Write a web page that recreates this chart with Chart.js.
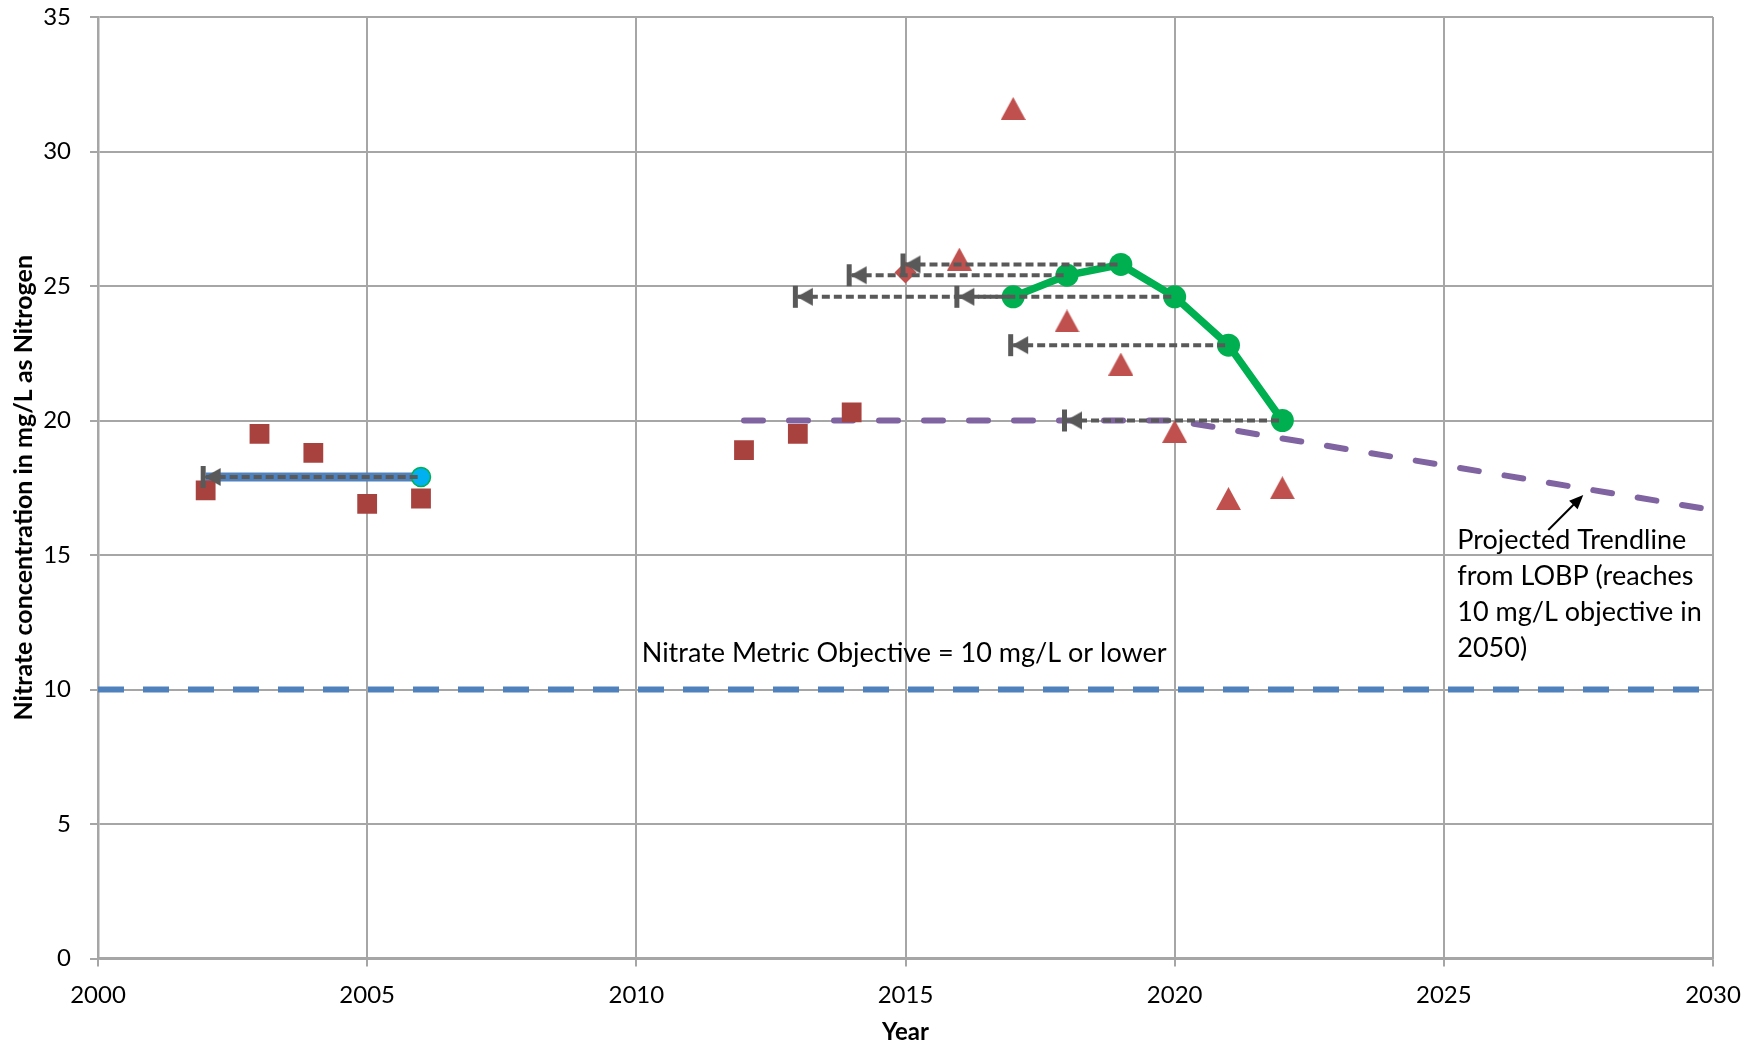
<!DOCTYPE html>
<html>
<head>
<meta charset="utf-8">
<script src="https://cdn.jsdelivr.net/npm/chart.js@4.4.1/dist/chart.umd.min.js"></script>
<style>
  html, body { margin: 0; padding: 0; background: #fff; }
</style>
</head>
<body>
<canvas id="chart" width="1764" height="1047"></canvas>
<script>
const squareYears = [2002, 2003, 2004, 2005, 2006, 2012, 2013, 2014];
const squareValues = [17.4, 19.5, 18.8, 16.9, 17.1, 18.9, 19.5, 20.3];
const diamondYears = [2015];
const diamondValues = [25.5];
const triangleYears = [2016, 2017, 2018, 2019, 2020, 2021, 2022];
const triangleValues = [26.0, 31.6, 23.7, 22.1, 19.6, 17.1, 17.5];
const greenYears = [2017, 2018, 2019, 2020, 2021, 2022];
const greenValues = [24.6, 25.4, 25.8, 24.6, 22.8, 20.0];
const earlyYears = [2002, 2006];
const earlyValue = 17.9;
const lagYears = 4; // each arrow points back 4 years
const trendYears = [2012, 2020, 2030];
const trendValues = [20, 20, 16.67];
const objectiveYears = [2000, 2030];
const objectiveValue = 10;
const objectiveLabel = 'Nitrate Metric Objective = 10 mg/L or lower';
const trendLabel = ['Projected Trendline', 'from LOBP (reaches', '10 mg/L objective in', '2050)'];

const pts = (xs, ys) => xs.map((x, i) => ({ x: x, y: Array.isArray(ys) ? ys[i] : ys }));

// "|<" end cap for the lag arrows
function makeArrowCap() {
    const c = document.createElement('canvas');
    c.width = 48;
    c.height = 24;
    const g = c.getContext('2d');
    g.fillStyle = '#595959';
    g.fillRect(19, 1, 5, 22);
    g.beginPath();
    g.moveTo(23, 12);
    g.lineTo(39, 3);
    g.lineTo(39, 21);
    g.closePath();
    g.fill();
    return c;
}
const arrowCap = makeArrowCap();

// triangle marker centred on its box, like the spreadsheet one
function makeTriangle() {
    const c = document.createElement('canvas');
    c.width = 25;
    c.height = 23;
    const g = c.getContext('2d');
    g.fillStyle = '#C0504D';
    g.beginPath();
    g.moveTo(12.5, 0);
    g.lineTo(25, 23);
    g.lineTo(0, 23);
    g.closePath();
    g.fill();
    return c;
}
const triangleMark = makeTriangle();

const arrowStarts = pts([earlyYears[1]].concat(greenYears), [earlyValue].concat(greenValues));
const arrowSets = arrowStarts.map(p => ({
    data: [{ x: p.x - lagYears, y: p.y }, { x: p.x, y: p.y }],
    showLine: true,
    borderColor: '#595959',
    borderWidth: 4,
    borderDash: [8, 4],
    pointStyle: arrowCap,
    pointRadius: ctx => ctx.dataIndex === 0 ? 8 : 0,
    order: 1
}));

const notes = {
    id: 'notes',
    afterDatasetsDraw(chart) {
        const { ctx, scales: { x, y } } = chart;
        ctx.save();
        ctx.fillStyle = '#000';
        ctx.font = '27px Lato';
        ctx.textBaseline = 'alphabetic';
        ctx.fillText(objectiveLabel, x.getPixelForValue(2010.1), y.getPixelForValue(11.02));
        const tx = x.getPixelForValue(2025.25);
        const ty = y.getPixelForValue(15.22);
        trendLabel.forEach((line, i) => ctx.fillText(line, tx, ty + i * 36));
        // pointer to the trendline
        const x1 = x.getPixelForValue(2026.94), y1 = y.getPixelForValue(15.93);
        const x2 = x.getPixelForValue(2027.59), y2 = y.getPixelForValue(17.23);
        const a = Math.atan2(y2 - y1, x2 - x1);
        ctx.strokeStyle = '#000';
        ctx.lineWidth = 2;
        ctx.beginPath();
        ctx.moveTo(x1, y1);
        ctx.lineTo(x2 - 10 * Math.cos(a), y2 - 10 * Math.sin(a));
        ctx.stroke();
        ctx.beginPath();
        ctx.moveTo(x2, y2);
        ctx.lineTo(x2 - 14 * Math.cos(a) + 6 * Math.sin(a), y2 - 14 * Math.sin(a) - 6 * Math.cos(a));
        ctx.lineTo(x2 - 14 * Math.cos(a) - 6 * Math.sin(a), y2 - 14 * Math.sin(a) + 6 * Math.cos(a));
        ctx.closePath();
        ctx.fill();
        ctx.restore();
    }
};

const gridColor = '#A6A6A6';

new Chart(document.getElementById('chart'), {
    type: 'scatter',
    data: {
        datasets: [
            ...arrowSets,
            {
                data: pts([earlyYears[1]], earlyValue),
                pointRadius: 9.5,
                pointBackgroundColor: '#00B0F0',
                pointBorderColor: '#00B050',
                pointBorderWidth: 1.5,
                order: 2
            },
            {
                data: pts(greenYears, greenValues),
                showLine: true,
                borderColor: '#00B050',
                borderWidth: 7.5,
                pointRadius: 11.5,
                pointBackgroundColor: '#00B050',
                pointBorderWidth: 0,
                order: 3
            },
            {
                data: pts(triangleYears, triangleValues),
                pointStyle: triangleMark,
                pointRadius: 12,
                pointBorderWidth: 0,
                order: 4
            },
            {
                data: pts(diamondYears, diamondValues),
                pointStyle: 'rectRot',
                pointRadius: 11,
                pointBackgroundColor: '#C0504D',
                pointBorderWidth: 0,
                order: 4
            },
            {
                data: pts(squareYears, squareValues),
                pointStyle: 'rect',
                pointRadius: 14,
                pointBackgroundColor: '#A8423F',
                pointBorderWidth: 0,
                order: 4
            },
            {
                data: pts(earlyYears, earlyValue),
                showLine: true,
                borderColor: '#4F81BD',
                borderWidth: 9,
                pointRadius: 0,
                order: 5
            },
            {
                data: pts(trendYears, trendValues),
                showLine: true,
                borderColor: '#8064A2',
                borderWidth: 6,
                borderDash: [19, 26],
                borderCapStyle: 'round',
                pointRadius: 0,
                order: 6
            },
            {
                data: pts(objectiveYears, objectiveValue),
                showLine: true,
                borderColor: '#4F81BD',
                borderWidth: 6,
                borderDash: [26, 19],
                pointRadius: 0,
                order: 7
            }
        ]
    },
    options: {
        responsive: false,
        animation: false,
        events: [],
        layout: { autoPadding: false, padding: { top: 17, right: 51, left: 0, bottom: 0 } },
        plugins: { legend: { display: false }, tooltip: { enabled: false } },
        scales: {
            x: {
                type: 'linear',
                min: 2000,
                max: 2030,
                afterFit(s) { s.height = 88.5; s.paddingLeft = 0; s.paddingRight = 0; },
                ticks: { stepSize: 5, padding: 14, maxRotation: 0, color: '#000', font: { family: 'Lato', size: 24 }, callback: v => String(v) },
                grid: { color: gridColor, lineWidth: 2, tickLength: 8, tickColor: gridColor },
                border: { color: gridColor, width: 2.5 },
                title: { display: true, text: 'Year', color: '#000', font: { family: 'Lato', size: 24, weight: 'bold' }, padding: { top: 0, bottom: 0 } }
            },
            y: {
                min: 0,
                max: 35,
                afterFit(s) { s.width = 98; s.paddingTop = 0; s.paddingBottom = 0; },
                ticks: { stepSize: 5, padding: 19, color: '#000', font: { family: 'Lato', size: 24 } },
                grid: { color: gridColor, lineWidth: 2, tickLength: 8, tickColor: gridColor },
                border: { color: gridColor, width: 2.5 },
                title: { display: true, text: 'Nitrate concentration in mg/L as Nitrogen', color: '#000', font: { family: 'Lato', size: 25, weight: 'bold' }, padding: { top: 9, bottom: 0 } }
            }
        }
    },
    plugins: [notes]
});
</script>
</body>
</html>
